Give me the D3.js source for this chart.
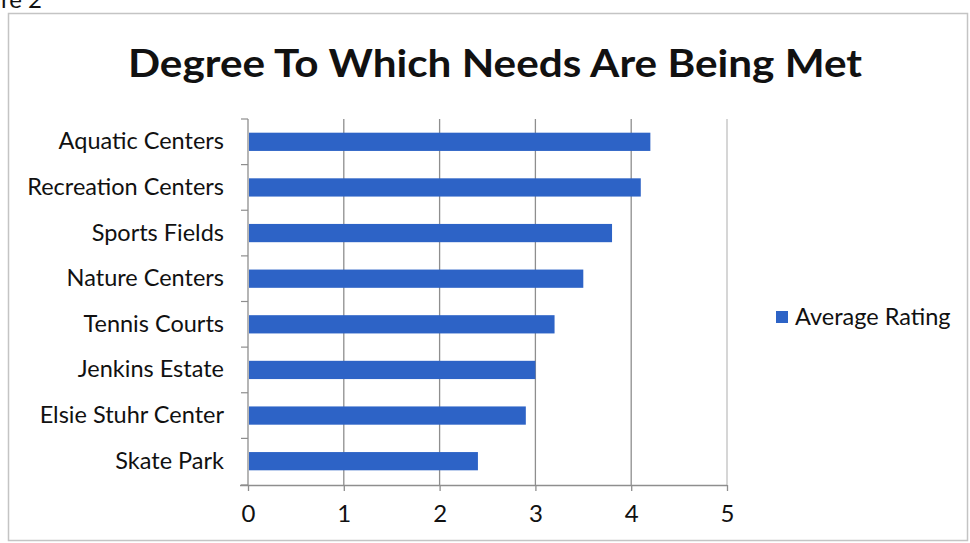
<!DOCTYPE html>
<html>
<head>
<meta charset="utf-8">
<script src="https://cdn.jsdelivr.net/npm/d3@7"></script>
<style>
  html, body { margin: 0; padding: 0; background: #fff; }
  svg { display: block; }
  text { font-family: Lato, "Open Sans", sans-serif; fill: #111; }
</style>
</head>
<body>
<svg id="chart" width="970" height="543"></svg>
<script>
const categories = ["Aquatic Centers", "Recreation Centers", "Sports Fields", "Nature Centers",
                    "Tennis Courts", "Jenkins Estate", "Elsie Stuhr Center", "Skate Park"];
const averageRating = [4.2, 4.1, 3.8, 3.5, 3.2, 3.0, 2.9, 2.4];
const xTicks = [0, 1, 2, 3, 4, 5];
const seriesName = "Average Rating";
const titleText = "Degree To Which Needs Are Being Met";
const figureLabel = "Figure 2";

const svg = d3.select("#chart");
const barColor = "#2d63c6";
const gridColor = "#8e8e8e";
const font = "Lato, \"Open Sans\", sans-serif";

// outer frame
svg.append("rect").attr("x", 8.5).attr("y", 13.5).attr("width", 959).attr("height", 527)
  .attr("fill", "none").attr("stroke", "#c4c4c4").attr("stroke-width", 1.5);

// cut-off figure label at top-left
svg.append("text").attr("x", 42).attr("y", 8).attr("text-anchor", "end")
  .attr("font-size", 24).text(figureLabel);

// title
svg.append("text").attr("x", 495).attr("y", 77).attr("text-anchor", "middle")
  .attr("font-size", 38).attr("font-weight", 700)
  .attr("textLength", 734).attr("lengthAdjust", "spacingAndGlyphs")
  .text(titleText);

const x = d3.scaleLinear().domain([0, 5]).range([248, 727]);
const y = d3.scaleBand().domain(categories).range([119, 484]).paddingInner(0.6).paddingOuter(0.3);

// plot-area right border
svg.append("line").attr("x1", x(5)).attr("x2", x(5)).attr("y1", 119).attr("y2", 485)
  .attr("stroke", "#c8c8c8").attr("stroke-width", 1.5);

// gridlines
svg.append("g").selectAll("line").data(xTicks.slice(1, -1)).join("line")
  .attr("x1", d => x(d)).attr("x2", d => x(d)).attr("y1", 119).attr("y2", 485)
  .attr("stroke", gridColor).attr("stroke-width", 1.3);

// bars
svg.append("g").selectAll("rect").data(categories).join("rect")
  .attr("x", x(0) + 1)
  .attr("y", d => y(d))
  .attr("width", (d, i) => x(averageRating[i]) - x(0) - 1)
  .attr("height", y.bandwidth())
  .attr("fill", barColor);

// x axis
const xAxis = d3.axisBottom(x).tickValues(xTicks).tickFormat(d3.format("d")).tickSize(6).tickPadding(14);
const gx = svg.append("g").attr("transform", "translate(0,485)").call(xAxis);
gx.select(".domain").attr("stroke", gridColor).attr("stroke-width", 1.3)
  .attr("d", `M${x(0) - 8},0.5H${x(5)}`);
gx.selectAll(".tick line").attr("stroke", gridColor).attr("stroke-width", 1.3);
gx.selectAll(".tick text").attr("font-size", 24).attr("fill", "#111").attr("font-family", font);

// y axis
const yAxis = d3.axisLeft(y).tickSize(0).tickPadding(24);
const gy = svg.append("g").attr("transform", `translate(${x(0)},0)`).call(yAxis);
gy.select(".domain").attr("stroke", gridColor).attr("stroke-width", 1.3)
  .attr("d", "M0,119V485");
gy.selectAll(".tick text").attr("font-size", 23.5).attr("fill", "#111").attr("font-family", font);

// y tick marks at band boundaries
const bounds = categories.map(d => y(d) - y.step() * y.paddingInner() / 2).concat([485]);
bounds[0] = 119;
svg.append("g").selectAll("line").data(bounds).join("line")
  .attr("x1", x(0) - 7).attr("x2", x(0)).attr("y1", d => d).attr("y2", d => d)
  .attr("stroke", gridColor).attr("stroke-width", 1.2);

// legend
const lg = svg.append("g").attr("transform", "translate(776,311)");
lg.append("rect").attr("width", 12).attr("height", 12).attr("fill", barColor);
lg.append("text").attr("x", 19).attr("y", 14).attr("font-size", 23.5).text(seriesName);
</script>
</body>
</html>
